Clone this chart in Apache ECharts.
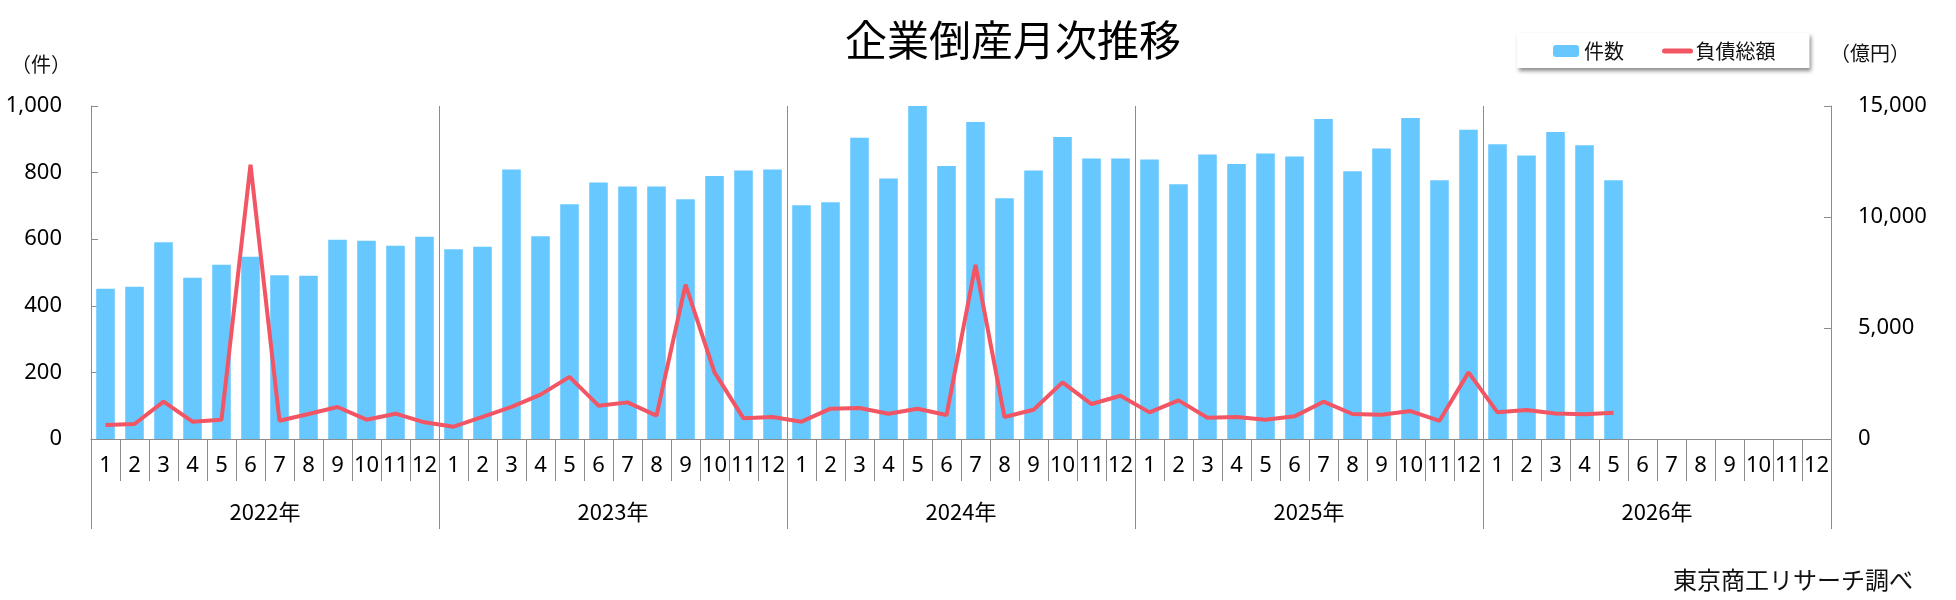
<!DOCTYPE html>
<html>
<head>
<meta charset="utf-8">
<script src="https://cdn.jsdelivr.net/npm/echarts@6/dist/echarts.min.js"></script>
<style>
  html, body { margin: 0; padding: 0; background: #fff; }
  #main { width: 1956px; height: 600px; }
</style>
</head>
<body>
<div id="main"></div>
<script>
var years = ['2022年', '2023年', '2024年', '2025年', '2026年'];
var months = ['1','2','3','4','5','6','7','8','9','10','11','12'];

// 倒産件数（件）
var counts = [
  451, 457, 591, 484, 523, 547, 492, 490, 598, 595, 580, 607,
  570, 577, 809, 609, 705, 770, 758, 758, 720, 790, 806, 809,
  702, 711, 905, 782, 1000, 820, 952, 723, 806, 907, 842, 842,
  839, 765, 854, 826, 857, 848, 961, 804, 872, 964, 777, 929,
  885, 851, 922, 882, 777
];

// 負債総額（億円）
var debts = [
  630, 675, 1680, 780, 870, 12350, 825, 1125, 1440, 870, 1140, 750,
  555, 1000, 1450, 2000, 2800, 1500, 1650, 1050, 6950, 3000, 930, 990,
  780, 1365, 1395, 1140, 1365, 1080, 7845, 990, 1320, 2550, 1575, 1950,
  1200, 1740, 960, 990, 870, 1020, 1680, 1125, 1095, 1260, 820, 3000,
  1200, 1310, 1150, 1110, 1180
];

var countTicks = [0, 1000, 200];
var debtTicks = [0, 15000, 5000];

var categories = [];
years.forEach(function (y) {
  months.forEach(function (m) { categories.push(m); });
});

var numFont = 'Noto Sans, Noto Sans CJK JP, sans-serif';
var jpFont = 'Noto Sans CJK JP, sans-serif';
var gray = '#8c8c8c';

function comma(v) { return v.toLocaleString('en-US'); }

var chartDom = document.getElementById('main');
var myChart = echarts.init(chartDom);
var option;

option = {
  animation: false,
  grid: { left: 91, right: 125, top: 106, bottom: 161 },
  legend: {
    left: 1517,
    top: 33,
    padding: [8, 34, 7, 36],
    itemGap: 38,
    itemWidth: 26,
    itemHeight: 12,
    backgroundColor: '#fff',
    shadowColor: 'rgba(0,0,0,0.45)',
    shadowBlur: 4,
    shadowOffsetX: 2,
    shadowOffsetY: 3,
    textStyle: { fontFamily: jpFont, fontSize: 20, color: '#111' },
    data: [
      '件数',
      // 線だけ見せる（記号は消す）
      {
        name: '負債総額',
        itemStyle: { opacity: 0, color: 'rgba(0,0,0,0)', borderWidth: 0 },
        lineStyle: { width: 5, cap: 'round' }
      }
    ]
  },
  graphic: [
    { type: 'text', style: { text: '企業倒産月次推移', x: 1013, y: 40, align: 'center', verticalAlign: 'middle', fontFamily: jpFont, fontSize: 42, fill: '#000' } },
    { type: 'text', style: { text: '（件）', x: 41, y: 64, align: 'center', verticalAlign: 'middle', fontFamily: jpFont, fontSize: 20, fill: '#111' } },
    { type: 'text', style: { text: '（億円）', x: 1870, y: 53, align: 'center', verticalAlign: 'middle', fontFamily: jpFont, fontSize: 20, fill: '#111' } },
    { type: 'text', style: { text: '東京商工リサーチ調べ', x: 1913, y: 580, align: 'right', verticalAlign: 'middle', fontFamily: jpFont, fontSize: 24, fill: '#111' } }
  ],
  xAxis: [
    {
      type: 'category',
      data: categories,
      axisLine: { lineStyle: { color: gray } },
      axisTick: { show: true, interval: 0, length: 42, lineStyle: { color: gray } },
      axisLabel: { interval: 0, margin: 16, fontFamily: numFont, fontSize: 22, color: '#000' }
    },
    {
      type: 'category',
      data: years,
      position: 'bottom',
      axisLine: { show: false },
      axisTick: { show: true, interval: 0, length: 90, lineStyle: { color: gray } },
      axisLabel: { interval: 0, margin: 62, fontFamily: jpFont, fontSize: 22, color: '#000' },
      splitLine: { show: true, interval: 0, lineStyle: { color: gray, width: 1 } }
    }
  ],
  yAxis: [
    {
      type: 'value',
      min: countTicks[0],
      max: countTicks[1],
      interval: countTicks[2],
      axisLine: { show: true, lineStyle: { color: gray } },
      axisTick: { show: true, inside: true, length: 7, lineStyle: { color: gray } },
      splitLine: { show: false },
      axisLabel: { margin: 29, fontFamily: numFont, fontSize: 22, color: '#000', formatter: comma }
    },
    {
      type: 'value',
      min: debtTicks[0],
      max: debtTicks[1],
      interval: debtTicks[2],
      axisLine: { show: true, lineStyle: { color: gray } },
      axisTick: { show: true, inside: true, length: 7, lineStyle: { color: gray } },
      splitLine: { show: false },
      axisLabel: { margin: 27, fontFamily: numFont, fontSize: 22, color: '#000', formatter: comma }
    }
  ],
  series: [
    {
      name: '件数',
      type: 'bar',
      xAxisIndex: 0,
      yAxisIndex: 0,
      data: counts,
      barCategoryGap: '36%',
      itemStyle: { color: '#66C8FF' }
    },
    {
      name: '負債総額',
      type: 'line',
      xAxisIndex: 0,
      yAxisIndex: 1,
      data: debts,
      symbol: 'none',
      lineStyle: { color: '#F25563', width: 4 },
      itemStyle: { color: '#F25563' }
    }
  ]
};

option && myChart.setOption(option);
window.addEventListener('resize', function () {
  myChart.resize();
});
</script>
</body>
</html>
